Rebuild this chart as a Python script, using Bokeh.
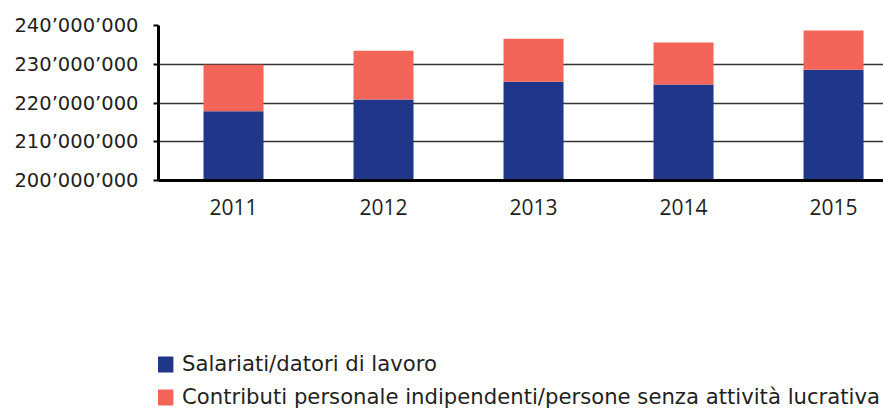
from bokeh.plotting import figure
from bokeh.models import Range1d, FixedTicker, Legend, LegendItem, ColumnDataSource
from bokeh.layouts import column
from bokeh.embed import file_html
from bokeh.resources import INLINE

years = [2011, 2012, 2013, 2014, 2015]
salariati = [217.9e6, 220.9e6, 225.5e6, 224.8e6, 228.6e6]
indipendenti = [12.0e6, 12.6e6, 11.1e6, 10.8e6, 10.1e6]
y_ticks = [200e6, 210e6, 220e6, 230e6, 240e6]
y_tick_labels = ["200’000’000", "210’000’000", "220’000’000", "230’000’000", "240’000’000"]
series_names = ["Salariati/datori di lavoro",
                "Contributi personale indipendenti/persone senza attività lucrativa"]
colors = ["#1f3689", "#f26558"]

source = ColumnDataSource(dict(year=years, sal=salariati, ind=indipendenti))

p = figure(width=883, height=240, output_backend="svg", toolbar_location=None,
           x_range=Range1d(2010.5, 2015.333), y_range=Range1d(200e6, 240e6),
           min_border_left=158, min_border_right=0, min_border_top=25,
           min_border_bottom=60)
p.outline_line_color = None
p.xgrid.grid_line_color = None
p.ygrid.grid_line_color = "#333333"
p.ygrid.grid_line_width = 1.5

p.vbar_stack(["sal", "ind"], x="year", width=0.4, color=colors,
             line_color=None, source=source)

p.yaxis.ticker = FixedTicker(ticks=y_ticks)
p.yaxis.major_label_overrides = {t: l for t, l in zip(y_ticks, y_tick_labels)}
p.yaxis.major_label_text_font = "DejaVu Sans"
p.yaxis.major_label_text_font_size = "19.5px"
p.yaxis.major_label_text_color = "#231f20"
p.yaxis.major_label_standoff = 15
p.yaxis.axis_line_width = 3
p.yaxis.axis_line_color = "black"
p.yaxis.major_tick_out = 5
p.yaxis.major_tick_in = 0
p.yaxis.major_tick_line_width = 2
p.yaxis.minor_tick_line_color = None

p.xaxis.ticker = FixedTicker(ticks=years)
p.xaxis.major_label_text_font = "Open Sans"
p.xaxis.major_label_text_font_size = "21px"
p.xaxis.major_label_text_color = "#231f20"
p.xaxis.major_label_standoff = 12
p.xaxis.axis_line_width = 3
p.xaxis.axis_line_color = "black"
p.xaxis.major_tick_line_color = None
p.xaxis.minor_tick_line_color = None

# legend panel (its bars lie outside its own range, only the legend shows)
p2 = figure(width=883, height=170, output_backend="svg", toolbar_location=None,
            x_range=Range1d(0, 1), y_range=Range1d(0, 1),
            x_axis_location=None, y_axis_location=None,
            min_border_left=0, min_border_right=0, min_border_top=0, min_border_bottom=0)
p2.outline_line_color = None
p2.grid.visible = False
rs = p2.vbar_stack(["sal", "ind"], x="year", width=0.4, color=colors,
                   line_color=None, source=source)

legend = Legend(items=[LegendItem(label=series_names[i], renderers=[rs[i]]) for i in range(2)],
                location=(-4, 1), orientation="vertical",
                glyph_width=21, glyph_height=20, label_height=16,
                label_standoff=7, spacing=8, padding=0, margin=0,
                border_line_alpha=0, background_fill_alpha=0,
                label_text_font="DejaVu Sans", label_text_font_size="21.2px",
                label_text_color="#231f20")
p2.add_layout(legend, "center")

layout = column(p, p2, spacing=0)
open("out.html", "w").write(file_html(layout, INLINE))
